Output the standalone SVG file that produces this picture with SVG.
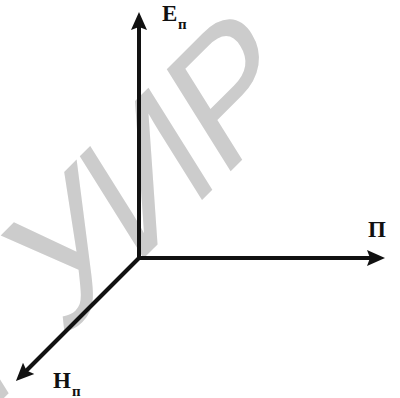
<svg xmlns="http://www.w3.org/2000/svg" width="400" height="398" viewBox="0 0 400 398">
<style>
.wm{font-family:"Liberation Sans",Arial,sans-serif;font-size:175px;fill:#cccccc}
.lbl{font-family:"Liberation Serif","Times New Roman",serif;font-weight:bold;fill:#111111}
.big{font-size:23px}
.sub{font-size:15px}
.ax{stroke:#111111;stroke-width:4;fill:none}
</style>
<defs>
<marker id="arr" markerUnits="userSpaceOnUse" markerWidth="20" markerHeight="18" refX="8" refY="8" orient="auto" viewBox="0 0 20 16">
<path d="M0,0 L18,8 L0,16 L3,8 z" fill="#111111"/>
</marker>
</defs>
<rect width="400" height="398" fill="#ffffff"/>
<g id="watermark" transform="matrix(0.707,-0.707,0.53,0.848,220.4,181.6)">
<text class="wm" x="-330 -225 -123 0" y="0">ГУИР</text>
</g>
<g id="connectors">
<line class="ax" x1="139" y1="260" x2="139" y2="22" marker-end="url(#arr)"/>
<line class="ax" x1="137" y1="258" x2="375" y2="258" marker-end="url(#arr)"/>
<line class="ax" x1="139" y1="258" x2="23" y2="374" marker-end="url(#arr)"/>
</g>
<g id="node-E">
<text class="lbl big" x="162" y="21">E</text><text class="lbl sub" x="178" y="29">п</text>
</g>
<g id="node-P">
<text class="lbl big" x="368" y="237">П</text>
</g>
<g id="node-H">
<text class="lbl big" x="53" y="388">H</text><text class="lbl sub" x="72" y="396">п</text>
</g>
</svg>
